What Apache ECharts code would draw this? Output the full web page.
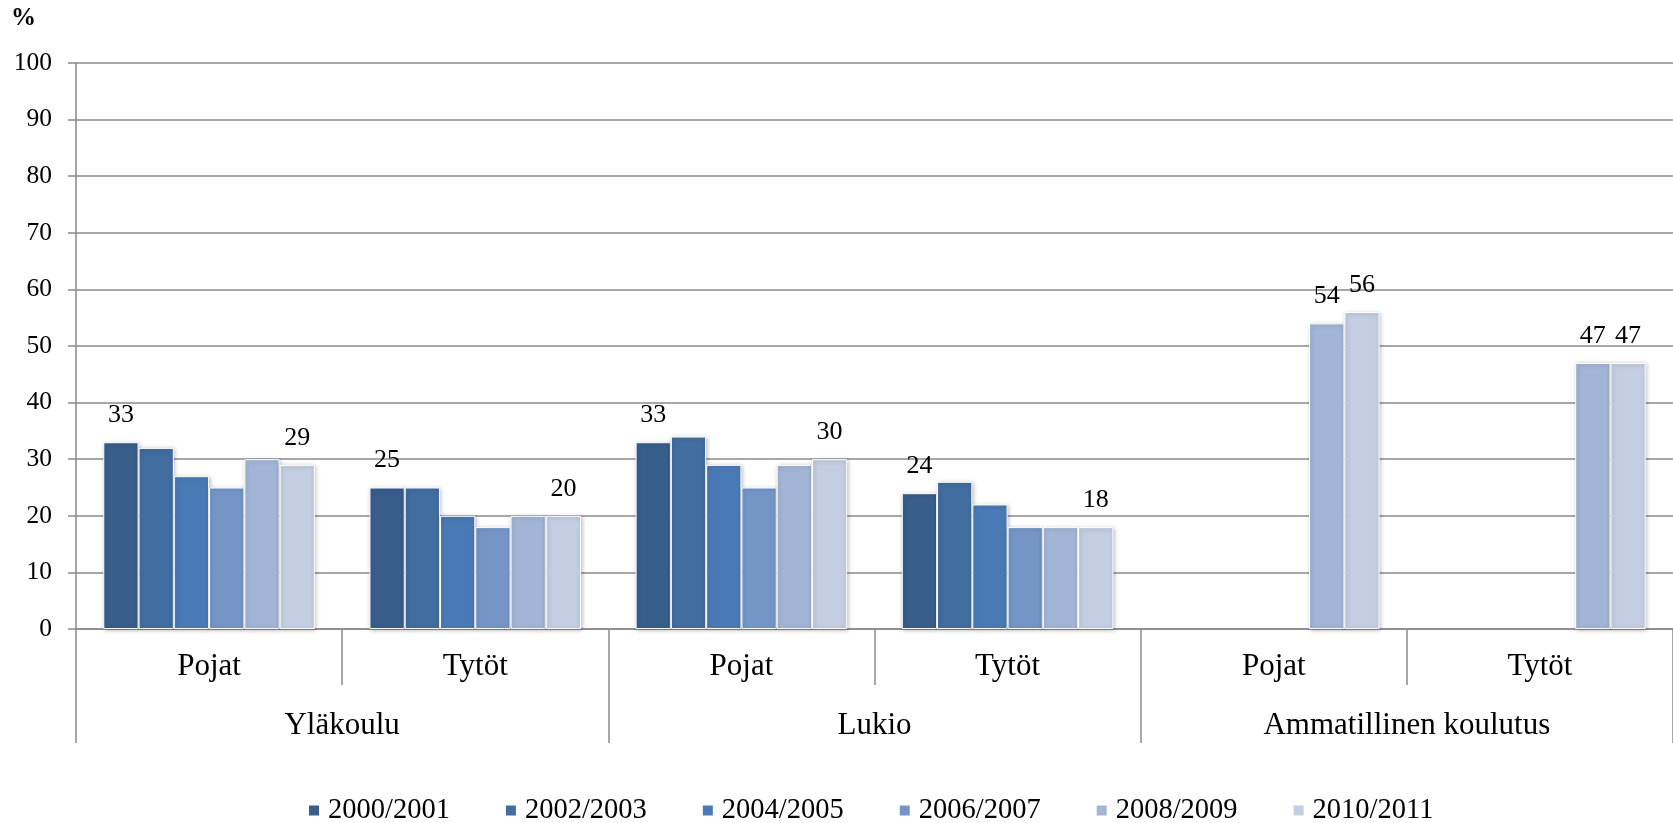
<!DOCTYPE html>
<html>
<head>
<meta charset="utf-8">
<script src="https://cdn.jsdelivr.net/npm/echarts/dist/echarts.min.js"></script>
<style>
  html, body { margin: 0; padding: 0; background: #fff; }
  #chart { width: 1673px; height: 823px; }
</style>
</head>
<body>
<div id="chart"></div>
<script>
// alaluokat (sukupuoli) ja pääluokat (oppilaitos)
const subCategories = ['Pojat', 'Tytöt', 'Pojat', 'Tytöt', 'Pojat', 'Tytöt'];
const mainCategories = ['Yläkoulu', 'Lukio', 'Ammatillinen koulutus'];
const years = ['2000/2001', '2002/2003', '2004/2005', '2006/2007', '2008/2009', '2010/2011'];

// arvot (%), '-' = ei tietoa
const v2000 = [33, 25, 33, 24, '-', '-'];
const v2002 = [32, 25, 34, 26, '-', '-'];
const v2004 = [27, 20, 29, 22, '-', '-'];
const v2006 = [25, 18, 25, 18, '-', '-'];
const v2008 = [30, 20, 29, 18, 54, 47];
const v2010 = [29, 20, 30, 18, 56, 47];
const values = [v2000, v2002, v2004, v2006, v2008, v2010];

// mille pylväille arvo näytetään (luokan indeksit sarjoittain)
const shownLabels = [[0, 1, 2, 3], [], [], [], [4, 5], [0, 1, 2, 3, 4, 5]];

const yTicks = [0, 10, 20, 30, 40, 50, 60, 70, 80, 90, 100];

const colors = ['#395E8C', '#426DA0', '#4A7AB5', '#7495C6', '#A3B5D6', '#C3CEE3'];
const font = "'Liberation Serif', 'Times New Roman', serif";
const grey = '#8a8a8a';

const chart = echarts.init(document.getElementById('chart'));

const series = years.map(function (name, i) {
  return {
    name: name,
    type: 'bar',
    data: values[i],
    barGap: 0,
    barCategoryGap: '20.5%',
    itemStyle: {
      color: colors[i],
      borderColor: '#ffffff',
      borderWidth: 1,
      shadowColor: 'rgba(0,0,0,0.25)',
      shadowBlur: 4,
      shadowOffsetX: 1,
      shadowOffsetY: 1
    },
    label: {
      show: true,
      position: 'top',
      distance: 14,
      fontFamily: font,
      fontSize: 26,
      color: '#000',
      formatter: function (p) {
        return shownLabels[i].indexOf(p.dataIndex) >= 0 ? String(p.value) : '';
      }
    },
    emphasis: { disabled: true }
  };
});

const option = {
  animation: false,
  backgroundColor: '#fff',
  textStyle: { fontFamily: font },
  grid: { left: 76, right: -3, top: 63, bottom: 194, containLabel: false },
  graphic: [{
    type: 'text',
    left: 11,
    top: 6,
    style: { text: '%', font: 'bold 25px ' + font, fill: '#000' }
  }],
  legend: {
    data: years,
    left: 307,
    top: 796,
    padding: 0,
    itemWidth: 12,
    itemHeight: 12,
    itemGap: 54,
    icon: 'rect',
    textStyle: { fontFamily: font, fontSize: 28.5, color: '#000', padding: [0, 0, 0, 3] },
    selectedMode: false
  },
  xAxis: [{
    type: 'category',
    data: subCategories,
    position: 'bottom',
    axisLine: { show: true, lineStyle: { color: grey, width: 1.5 } },
    axisTick: { show: true, interval: 0, length: 56, lineStyle: { color: grey, width: 1.5 } },
    axisLabel: { interval: 0, margin: 22, fontFamily: font, fontSize: 31, color: '#000' }
  }, {
    type: 'category',
    data: mainCategories,
    position: 'bottom',
    axisLine: { show: false },
    axisTick: { show: true, interval: 0, length: 114, lineStyle: { color: grey, width: 1.5 } },
    axisLabel: { interval: 0, margin: 81, fontFamily: font, fontSize: 31, color: '#000' }
  }],
  yAxis: {
    type: 'value',
    min: yTicks[0],
    max: yTicks[yTicks.length - 1],
    interval: 10,
    axisLine: { show: true, lineStyle: { color: grey, width: 1.5 } },
    axisTick: { show: true, length: 8, lineStyle: { color: grey, width: 1.5 } },
    axisLabel: { margin: 24, fontFamily: font, fontSize: 25.5, color: '#000' },
    splitLine: { show: true, lineStyle: { color: grey, width: 1.5 } }
  },
  series: series
};

chart.setOption(option);
</script>
</body>
</html>
